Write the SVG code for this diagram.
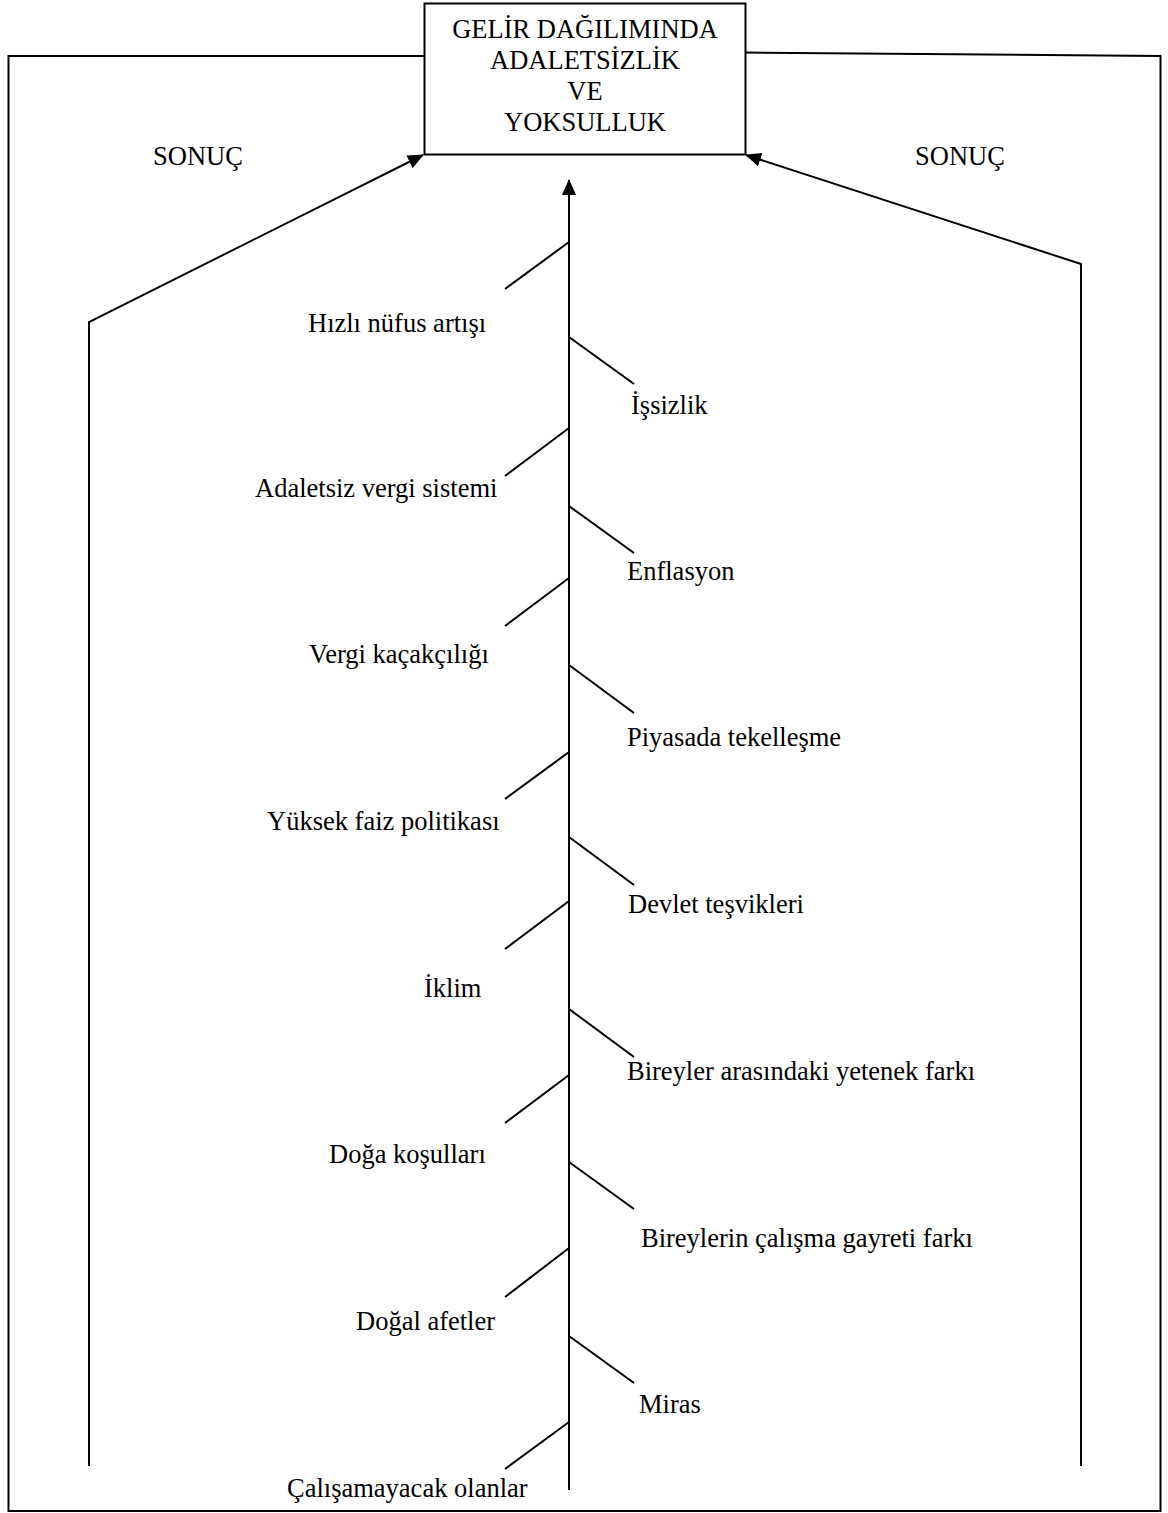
<svg xmlns="http://www.w3.org/2000/svg" width="1168" height="1513" viewBox="0 0 1168 1513">
<defs>
<style>
.ln{fill:none;stroke:#000;stroke-width:2}
.t{font-family:"Liberation Serif","Times New Roman",serif;font-size:26.5px;fill:#000}
.c{text-anchor:middle}
</style>
<marker id="ah" markerUnits="userSpaceOnUse" markerWidth="16" markerHeight="14" refX="15" refY="7" orient="auto">
<path d="M0,0 L16,7 L0,14 Z" fill="#000"/>
</marker>
</defs>
<rect width="1168" height="1513" fill="#fff"/>
<g id="frame">
<path class="ln" d="M424,56 L8.5,56 L8.5,1511 L1160.5,1511 L1160.5,56 L746,52.5"/>
</g>
<g id="node-main">
<rect x="424.5" y="3.5" width="321" height="151" fill="#fff" stroke="#000" stroke-width="2"/>
<text class="t c" x="585" y="38">GELİR DAĞILIMINDA</text>
<text class="t c" x="585" y="69">ADALETSİZLİK</text>
<text class="t c" x="585" y="100">VE</text>
<text class="t c" x="585" y="131">YOKSULLUK</text>
</g>
<g id="connectors">
<path class="ln" d="M89,1466 L89,322 L423,155" marker-end="url(#ah)"/>
<path class="ln" d="M1081,1466 L1081,264 L746,155" marker-end="url(#ah)"/>
<path class="ln" d="M569,1490 L569,180" marker-end="url(#ah)"/>
<path class="ln" d="M569,242 L505,289 M569,428 L505,476 M569,578 L505,626 M569,752 L505,799 M569,901 L505,949 M569,1075 L505,1123 M569,1248 L505,1297 M569,1422 L505,1469"/>
<path class="ln" d="M569,337 L634,384 M569,506 L634,553 M569,665 L634,713 M569,837 L634,885 M569,1009 L634,1057 M569,1162 L634,1209 M569,1336 L634,1383"/>
</g>
<g id="labels-result">
<text class="t" x="153" y="165">SONUÇ</text>
<text class="t" x="915" y="165">SONUÇ</text>
</g>
<g id="causes-left">
<text class="t" x="308" y="332">Hızlı nüfus artışı</text>
<text class="t" x="255" y="497">Adaletsiz vergi sistemi</text>
<text class="t" x="309" y="663">Vergi kaçakçılığı</text>
<text class="t" x="267" y="830">Yüksek faiz politikası</text>
<text class="t" x="424" y="997">İklim</text>
<text class="t" x="329" y="1163">Doğa koşulları</text>
<text class="t" x="356" y="1330">Doğal afetler</text>
<text class="t" x="287" y="1497">Çalışamayacak olanlar</text>
</g>
<g id="causes-right">
<text class="t" x="631" y="414">İşsizlik</text>
<text class="t" x="627" y="580">Enflasyon</text>
<text class="t" x="627" y="746">Piyasada tekelleşme</text>
<text class="t" x="628" y="913">Devlet teşvikleri</text>
<text class="t" x="627" y="1080">Bireyler arasındaki yetenek farkı</text>
<text class="t" x="641" y="1247">Bireylerin çalışma gayreti farkı</text>
<text class="t" x="639" y="1413">Miras</text>
</g>
</svg>
